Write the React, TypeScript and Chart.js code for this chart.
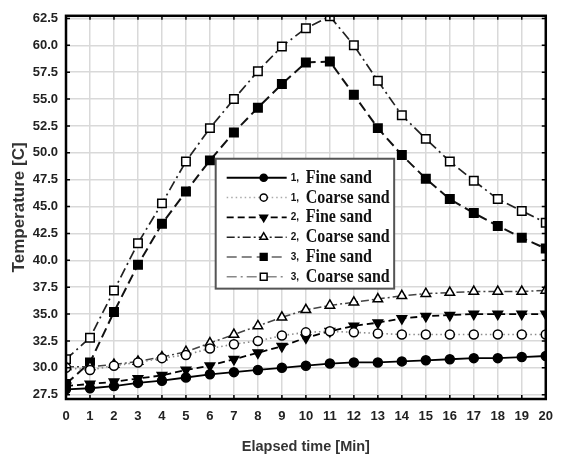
import React, { useEffect, useRef } from 'react';
import { Chart, registerables } from 'chart.js';

Chart.register(...registerables);

// Elapsed time in minutes
const minutes = [0, 1, 2, 3, 4, 5, 6, 7, 8, 9, 10, 11, 12, 13, 14, 15, 16, 17, 18, 19, 20];

// Temperature readings [C]
const fineSand1 = [28.0, 28.1, 28.3, 28.6, 28.8, 29.1, 29.4, 29.6, 29.8, 30.0, 30.2, 30.4, 30.5, 30.5, 30.6, 30.7, 30.8, 30.9, 30.9, 31.0, 31.1];
const coarseSand1 = [30.0, 29.8, 30.2, 30.5, 30.9, 31.2, 31.8, 32.2, 32.5, 33.0, 33.3, 33.4, 33.3, 33.2, 33.1, 33.1, 33.1, 33.1, 33.1, 33.1, 33.1];
const fineSand2 = [28.3, 28.5, 28.7, 29.0, 29.3, 29.8, 30.2, 30.8, 31.4, 32.0, 32.8, 33.4, 33.9, 34.2, 34.6, 34.8, 34.9, 35.0, 35.0, 35.0, 35.0];
const coarseSand2 = [30.1, 30.1, 30.3, 30.6, 31.0, 31.5, 32.3, 33.1, 33.9, 34.7, 35.4, 35.8, 36.1, 36.4, 36.7, 36.9, 37.0, 37.1, 37.1, 37.1, 37.2];
const fineSand3 = [28.5, 30.5, 35.2, 39.6, 43.4, 46.4, 49.3, 51.9, 54.2, 56.4, 58.4, 58.5, 55.4, 52.3, 49.8, 47.6, 45.7, 44.4, 43.2, 42.1, 41.1];
const coarseSand3 = [30.8, 32.8, 37.2, 41.6, 45.3, 49.2, 52.3, 55.0, 57.6, 59.9, 61.6, 62.7, 60.0, 56.7, 53.5, 51.3, 49.2, 47.4, 45.7, 44.6, 43.5];

const yTicks = [27.5, 30, 32.5, 35, 37.5, 40, 42.5, 45, 47.5, 50, 52.5, 55, 57.5, 60, 62.5];
const xTicks = minutes;

const seriesNumbers = ['1,', '1,', '2,', '2,', '3,', '3,'];
const seriesNames = ['Fine sand', 'Coarse sand', 'Fine sand', 'Coarse sand', 'Fine sand', 'Coarse sand'];

type Marker = 'circle' | 'triangleDown' | 'triangle' | 'rect';

const styles = [
  { marker: 'circle' as Marker, filled: true, color: '#000', dash: [] as number[], width: 1.8, radius: 4.5, legendColor: '#000' },
  { marker: 'circle' as Marker, filled: false, color: '#8a8a8a', dash: [1.5, 3], width: 1.6, radius: 4.5, legendColor: '#aaa' },
  { marker: 'triangleDown' as Marker, filled: true, color: '#000', dash: [7, 4], width: 1.8, radius: 5.5, legendColor: '#000' },
  { marker: 'triangle' as Marker, filled: false, color: '#444', dash: [8, 3, 2, 3], width: 1.5, radius: 5.5, legendColor: '#222' },
  { marker: 'rect' as Marker, filled: true, color: '#111', dash: [10, 5], width: 2, radius: 6, legendColor: '#888' },
  { marker: 'rect' as Marker, filled: false, color: '#222', dash: [10, 4, 2, 4], width: 1.7, radius: 6, legendColor: '#888' },
];

const seriesValues = [fineSand1, coarseSand1, fineSand2, coarseSand2, fineSand3, coarseSand3];

function drawMarker(ctx: CanvasRenderingContext2D, marker: Marker, x: number, y: number, r: number, filled: boolean) {
  ctx.save();
  ctx.beginPath();
  if (marker === 'circle') {
    ctx.arc(x, y, r, 0, Math.PI * 2);
  } else if (marker === 'rect') {
    const s = r * Math.SQRT1_2;
    ctx.rect(x - s, y - s, 2 * s, 2 * s);
  } else {
    const dir = marker === 'triangleDown' ? -1 : 1;
    const h = r * 1.5;
    ctx.moveTo(x, y - dir * r);
    ctx.lineTo(x - r * 0.87, y + dir * (h - r));
    ctx.lineTo(x + r * 0.87, y + dir * (h - r));
    ctx.closePath();
  }
  ctx.fillStyle = filled ? '#000' : '#fff';
  ctx.fill();
  ctx.lineWidth = 1.5;
  ctx.strokeStyle = '#000';
  ctx.setLineDash([]);
  ctx.stroke();
  ctx.restore();
}

// Frame around the plot area with inward tick marks on all four sides
const framePlugin = {
  id: 'frame',
  afterDatasetsDraw(chart: any) {
    const { ctx, chartArea, scales } = chart;
    const { left, right, top, bottom } = chartArea;
    ctx.save();
    ctx.strokeStyle = '#000';
    ctx.lineWidth = 1.5;
    ctx.beginPath();
    xTicks.forEach((t) => {
      const px = scales.x.getPixelForValue(t);
      ctx.moveTo(px, bottom);
      ctx.lineTo(px, bottom - 4);
      ctx.moveTo(px, top);
      ctx.lineTo(px, top + 4);
    });
    yTicks.forEach((t) => {
      const py = scales.y.getPixelForValue(t);
      ctx.moveTo(left, py);
      ctx.lineTo(left + 4, py);
      ctx.moveTo(right, py);
      ctx.lineTo(right - 4, py);
    });
    ctx.stroke();
    ctx.lineWidth = 2.5;
    ctx.strokeRect(left, top, right - left, bottom - top);
    ctx.restore();
  },
};

// Boxed legend placed inside the plot area
const legendPlugin = {
  id: 'boxLegend',
  afterDraw(chart: any) {
    const { ctx, chartArea } = chart;
    const w = chartArea.right - chartArea.left;
    const h = chartArea.bottom - chartArea.top;
    const bx = chartArea.left + w * 0.312;
    const by = chartArea.top + h * 0.373;
    const bw = w * 0.372;
    const bh = h * 0.339;
    ctx.save();
    ctx.fillStyle = '#fff';
    ctx.fillRect(bx, by, bw, bh);
    ctx.strokeStyle = '#555';
    ctx.lineWidth = 2;
    ctx.strokeRect(bx, by, bw, bh);

    const rowH = 19.8;
    styles.forEach((s, i) => {
      const cy = by + 19 + i * rowH;
      const x0 = bx + 11;
      const x1 = bx + 71;
      ctx.save();
      ctx.strokeStyle = s.legendColor;
      ctx.lineWidth = s.width;
      ctx.setLineDash(s.dash);
      ctx.beginPath();
      ctx.moveTo(x0, cy);
      ctx.lineTo(x1, cy);
      ctx.stroke();
      ctx.restore();
      drawMarker(ctx, s.marker, bx + 48, cy, s.radius * 0.8, s.filled);

      ctx.fillStyle = '#111';
      ctx.textBaseline = 'alphabetic';
      ctx.textAlign = 'left';
      ctx.font = 'bold 10px "Liberation Sans", Arial, sans-serif';
      ctx.fillText(seriesNumbers[i], bx + 75, cy + 3);
      ctx.save();
      ctx.translate(bx + 90, cy + 5);
      ctx.scale(1, 1.15);
      ctx.font = 'bold 16px "Liberation Serif", "Times New Roman", serif';
      ctx.fillText(seriesNames[i], 0, 0);
      ctx.restore();
    });
    ctx.restore();
  },
};

export default function App() {
  const canvasRef = useRef<HTMLCanvasElement | null>(null);

  useEffect(() => {
    if (!canvasRef.current) return;
    const datasets = seriesValues.map((vals, i) => {
      const s = styles[i];
      return {
        label: `${seriesNumbers[i]} ${seriesNames[i]}`,
        data: minutes.map((m, j) => ({ x: m, y: vals[j] })),
        borderColor: s.color,
        borderWidth: s.width,
        borderDash: s.dash,
        pointStyle: s.marker === 'triangleDown' ? 'triangle' : s.marker,
        rotation: s.marker === 'triangleDown' ? 180 : 0,
        pointRadius: s.radius,
        pointBackgroundColor: s.filled ? '#000' : '#fff',
        pointBorderColor: '#000',
        pointBorderWidth: 1.5,
        tension: 0,
        fill: false,
      };
    });

    const chart = new Chart(canvasRef.current, {
      type: 'line',
      data: { datasets },
      options: {
        animation: false,
        responsive: false,
        devicePixelRatio: 1,
        layout: { padding: { top: 13, right: 13, left: 0, bottom: 0 } },
        plugins: { legend: { display: false }, tooltip: { enabled: false } },
        scales: {
          x: {
            type: 'linear',
            min: 0,
            max: 20,
            afterBuildTicks: (scale: any) => {
              scale.ticks = xTicks.map((v) => ({ value: v }));
            },
            afterFit: (scale: any) => {
              scale.height = 62;
            },
            grid: { color: '#d9d9d9', lineWidth: 1.5, drawTicks: false },
            border: { display: false },
            ticks: {
              padding: 10,
              color: '#222',
              font: { family: 'Arial, "Liberation Sans", sans-serif', size: 13, weight: 'bold' },
              callback: (v: any) => String(v),
            },
            title: {
              display: true,
              text: 'Elapsed time [Min]',
              color: '#333',
              font: { family: 'Arial, "Liberation Sans", sans-serif', size: 14.5, weight: 'bold' },
              padding: { top: 0, bottom: 5 },
            },
          },
          y: {
            type: 'linear',
            min: 27.1,
            max: 62.75,
            afterBuildTicks: (scale: any) => {
              scale.ticks = yTicks.map((v) => ({ value: v }));
            },
            afterFit: (scale: any) => {
              scale.width = 66;
            },
            grid: { color: '#d9d9d9', lineWidth: 1.5, drawTicks: false },
            border: { display: false },
            ticks: {
              padding: 8,
              color: '#222',
              font: { family: 'Arial, "Liberation Sans", sans-serif', size: 13, weight: 'bold' },
              callback: (v: any) => Number(v).toFixed(1),
            },
            title: {
              display: true,
              text: 'Temperature [C]',
              color: '#333',
              font: { family: 'Arial, "Liberation Sans", sans-serif', size: 17, weight: 'bold' },
              padding: { top: 9, bottom: 0 },
            },
          },
        },
      },
      plugins: [framePlugin, legendPlugin],
    } as any);

    return () => chart.destroy();
  }, []);

  return (
    <div style={{ position: 'fixed', left: 0, top: 0, width: 563, height: 461, background: '#fff' }}>
      <canvas ref={canvasRef} width={563} height={461} />
    </div>
  );
}
